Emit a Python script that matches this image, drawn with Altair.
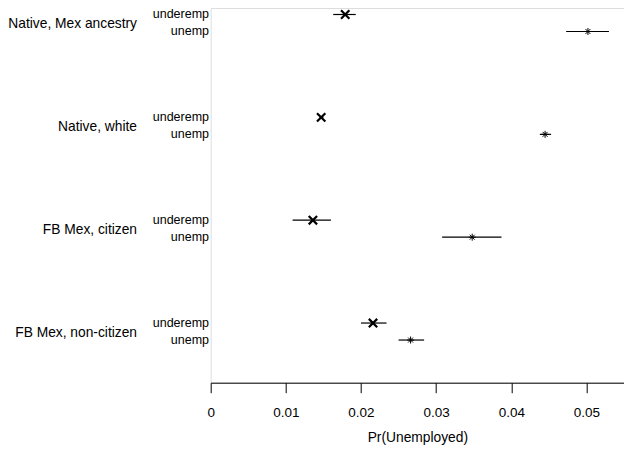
import altair as alt
import pandas as pd

groups = ["Native, Mex ancestry", "Native, white", "FB Mex, citizen", "FB Mex, non-citizen"]
subs = ["underemp", "unemp"]

under_est = [0.0179, 0.0147, 0.0136, 0.0216]
under_lo = [0.0163, 0.0145, 0.0109, 0.0200]
under_hi = [0.0193, 0.0150, 0.0160, 0.0234]

unemp_est = [0.0502, 0.0445, 0.0348, 0.0266]
unemp_lo = [0.0473, 0.0438, 0.0308, 0.0250]
unemp_hi = [0.0530, 0.0453, 0.0387, 0.0284]

tick_values = [0, 0.01, 0.02, 0.03, 0.04, 0.05]

GAP = 6.05
rows = []
for gi, g in enumerate(groups):
    for si, (s, est, lo, hi) in enumerate([
        ("underemp", under_est[gi], under_lo[gi], under_hi[gi]),
        ("unemp", unemp_est[gi], unemp_lo[gi], unemp_hi[gi]),
    ]):
        rows.append({"group": g, "sub": s, "est": est, "lo": lo, "hi": hi,
                     "pos": gi * GAP + si})
df = pd.DataFrame(rows)
gdf = pd.DataFrame({"group": groups, "pos": [i * GAP + 0.58 for i in range(len(groups))]})

FONT = "Liberation Sans"

xscale = alt.Scale(domain=[0, 0.055], nice=False, zero=False)
yscale = alt.Scale(domain=[-0.382, 21.659], reverse=True, nice=False, zero=False)

xaxis = alt.Axis(values=tick_values, title="Pr(Unemployed)", grid=False,
                 domainColor="black", tickColor="black", tickSize=10,
                 labelFlush=False, labelFontSize=13.5, labelColor="black",
                 labelPadding=13, labelFont=FONT,
                 labelExpr="datum.value == 0 ? '0' : format(datum.value, '.2f')",
                 titleFont=FONT, titleFontSize=13.8, titleFontWeight="normal",
                 titleColor="black", titlePadding=11)

base = alt.Chart(df)

rules = base.mark_rule(color="black", strokeWidth=1.2).encode(
    x=alt.X("lo:Q", scale=xscale, axis=xaxis),
    x2="hi:Q",
    y=alt.Y("pos:Q", scale=yscale, axis=None),
)

XPATH = "M-1,-1L1,1M-1,1L1,-1"
STAR = "M0,-1L0,1M-1,0L1,0M-0.7,-0.7L0.7,0.7M-0.7,0.7L0.7,-0.7"

xs = base.transform_filter("datum.sub == 'underemp'").mark_point(
    shape=XPATH, filled=False, color="black", strokeWidth=2.2, size=70, opacity=1
).encode(x=alt.X("est:Q", scale=xscale), y=alt.Y("pos:Q", scale=yscale))

stars = base.transform_filter("datum.sub == 'unemp'").mark_point(
    shape=STAR, filled=False, color="black", strokeWidth=1, size=49, opacity=1
).encode(x=alt.X("est:Q", scale=xscale), y=alt.Y("pos:Q", scale=yscale))

sublabels = base.mark_text(align="right", baseline="middle", font=FONT,
                           fontSize=12.5, color="black").encode(
    x=alt.value(-1.7), y=alt.Y("pos:Q", scale=yscale), text="sub:N")

glabels = alt.Chart(gdf).mark_text(align="right", baseline="middle", font=FONT,
                                   fontSize=13.8, color="black").encode(
    x=alt.value(-73.7), y=alt.Y("pos:Q", scale=yscale), text="group:N")

chart = alt.layer(rules, xs, stars, sublabels, glabels).properties(
    width=413.3, height=374.7,
    autosize=alt.AutoSizeParams(type="none"),
    padding={"left": 202.7, "top": 0, "right": 0, "bottom": 64},
).configure_view(stroke=None).configure(background="white")

chart.save("out.html", embed_options={"renderer": "svg", "actions": False})
